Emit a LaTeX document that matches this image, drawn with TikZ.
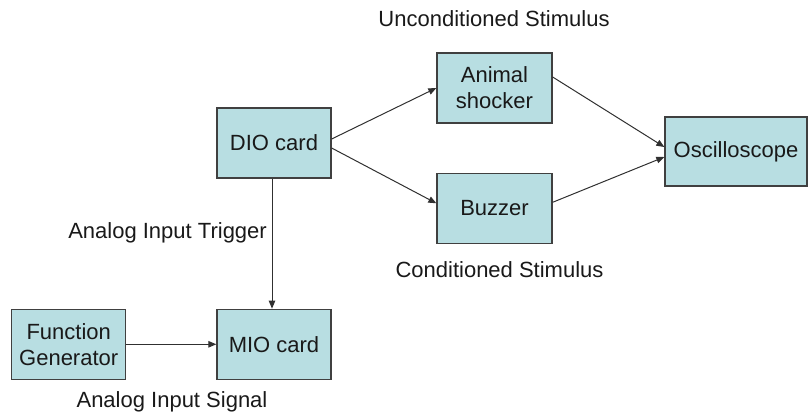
\documentclass[tikz,border=0pt]{standalone}
\usepackage{fontspec}
\setmainfont{Liberation Sans}
\usepackage{xcolor}
\definecolor{BoxCyan}{HTML}{B8DEE2}
\definecolor{EdgeGray}{HTML}{404040}
\definecolor{WireGray}{HTML}{303030}
\usetikzlibrary{arrows.meta,positioning}

\begin{document}
\begin{tikzpicture}[x=1pt,y=1pt,
  box/.style={draw=EdgeGray,line width=1.3pt,fill=BoxCyan,align=center,text=black!90,font=\fontsize{22}{26}\selectfont,minimum width=114pt,minimum height=70pt,inner sep=0pt},
  arr/.style={-{Triangle[length=8pt,width=6.5pt]},line width=1pt,WireGray},
  lbl/.style={font=\fontsize{22}{26}\selectfont,text=black!90,inner sep=0pt,anchor=base}
]
  \useasboundingbox (0,0) rectangle (809,-414);
  % hardware boxes
  \node[box] (dio) at (274,-143) {DIO card};
  \node[box,below=130pt of dio] (mio) {MIO card};
  \node[box,left=90pt of mio] (fg) {Function\\Generator};
  \node[box,minimum width=115pt] (shock) at (494.5,-88) {Animal\\shocker};
  \node[box,minimum width=115pt,below=49pt of shock] (buzz) {Buzzer};
  \node[box,minimum width=142pt,minimum height=69pt] (osc) at (736,-151.5) {Oscilloscope};
  % wiring
  \draw[arr] ([yshift=4pt]dio.east) -- (shock.west);
  \draw[arr] ([yshift=-5pt]dio.east) -- ([yshift=5pt]buzz.west);
  \draw[arr] ([yshift=11pt]shock.east) -- ([yshift=4.5pt]osc.west);
  \draw[arr] ([yshift=6pt]buzz.east) -- ([yshift=-5.5pt]osc.west);
  \draw[arr] ([xshift=-2pt]dio.south) -- ([xshift=-2pt]mio.north);
  \draw[arr] (fg) -- (mio);
  % signal names
  \node[lbl] (ucs) at (494,-27) {Unconditioned Stimulus};
  \node[lbl] (cs) at (499.5,-277) {Conditioned Stimulus};
  \node[lbl,anchor=base east] (trig) at (267,-239) {Analog Input Trigger};
  \node[lbl] (sig) at (172,-407.5) {Analog Input Signal};
\end{tikzpicture}
\end{document}
